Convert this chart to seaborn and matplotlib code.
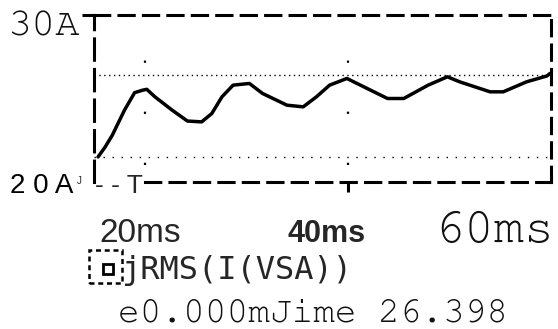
import matplotlib
matplotlib.use("Agg")
import matplotlib.pyplot as plt
import seaborn as sns
import pandas as pd
from matplotlib.patches import Rectangle

# data (time in ms, current in A)
time_ms = [15.4, 16.1, 16.8, 18.0, 19.0, 19.8, 20.2, 21.0, 22.7, 24.2, 25.6, 26.6,
           27.6, 28.7, 30.3, 31.6, 34.0, 35.6, 36.9, 38.2, 39.9, 40.9, 43.9, 45.5,
           47.9, 49.8, 51.0, 54.0, 55.3, 57.6, 59.6, 59.9]
rms_a = [21.5, 22.1, 22.8, 24.3, 25.35, 25.5, 25.55, 25.1, 24.3, 23.65, 23.6, 24.1,
         25.1, 25.8, 25.9, 25.3, 24.6, 24.5, 25.1, 25.8, 26.2, 25.9, 25.0, 25.0,
         25.8, 26.3, 26.0, 25.4, 25.4, 26.0, 26.35, 26.5]
cursor_levels = [26.4, 21.5]
grid_times = [20, 40]
x_range = [15, 60]
y_range = [20, 30]
x_labels = ["20ms", "40ms", "60ms"]
y_labels = ["30A", "2 0 A"]
trace_name = "jRMS(I(VSA))"
cursor_text = "e0.000mJime 26.398"

df = pd.DataFrame({"t": time_ms, "a": rms_a})

sns.set_style("white")
plt.rcParams['font.family'] = ['DejaVu Sans']

W, H = 558, 329
fig = plt.figure(figsize=(W / 100, H / 100), dpi=100)
fig.patch.set_facecolor("white")

def fx(x):
    return x / W

def fy(y):
    return 1 - y / H

left, right, top, bottom = 94, 551, 15, 182
ax = fig.add_axes([fx(left), fy(bottom), (right - left) / W, (bottom - top) / H])
ax.set_facecolor("white")

sns.lineplot(data=df, x="t", y="a", ax=ax, color="black", linewidth=2.5,
             legend=False, estimator=None, sort=False)

for lv, dens in zip(cursor_levels, [(0, (1, 2.5)), (0, (1, 5.5))]):
    ax.axhline(lv, color="black", linewidth=1.0, linestyle=dens)
for gt in grid_times:
    ax.axvline(gt, ymin=0.1, ymax=0.85, color="black", linewidth=1.6,
               linestyle=(0, (1, 22)))

ax.set_xlim(*x_range)
ax.set_ylim(*y_range)
ax.set_xlabel("")
ax.set_ylabel("")
ax.set_xticks([40])
ax.set_xticklabels([""])
ax.set_yticks([30])
ax.set_yticklabels([""])
ax.tick_params(axis="x", direction="out", length=7, width=2.2, color="black", bottom=True)
ax.tick_params(axis="y", direction="out", length=9, width=2.2, color="black", left=True)

for name, sp in ax.spines.items():
    sp.set_visible(True)
    sp.set_color("black")
    sp.set_linewidth(2.2)
    sp.set_linestyle((0, (5, 3)))
ax.spines["left"].set_linestyle((0, (7, 3)))
ax.spines["bottom"].set_bounds(20, 60)

courier = ["Courier New", "Nimbus Mono PS", "FreeMono", "Courier", "Liberation Mono"]
sans = ["Liberation Sans", "DejaVu Sans"]

fig.text(fx(7), fy(35), y_labels[0], family=courier, fontsize=29, ha="left",
         va="baseline", color="#111111")
fig.text(fx(10), fy(193), y_labels[1], family=sans, fontsize=20,
         ha="left", va="baseline", color="black")
fig.text(fx(77), fy(184), "J", family=sans, fontsize=7, ha="left", va="baseline")
fig.text(fx(95), fy(193), "- - T", family=sans, fontsize=19, ha="left", va="baseline")

fig.text(fx(99), fy(242), x_labels[0], family=sans, fontsize=24, ha="left", va="baseline")
fig.text(fx(288), fy(242), x_labels[1], family=sans, fontsize=22, fontweight="bold",
         ha="left", va="baseline")
fig.text(fx(434), fy(242), x_labels[2], family=courier, fontsize=36, ha="left",
         va="baseline", color="#111111")

# legend symbol
fig.patches.append(Rectangle((fx(89), fy(283)), 33 / W, 33 / H, transform=fig.transFigure,
                             fill=False, edgecolor="black", linewidth=1.8,
                             linestyle=(0, (2, 1.5))))
fig.patches.append(Rectangle((fx(103), fy(274)), 10 / W, 10 / H, transform=fig.transFigure,
                             fill=False, edgecolor="black", linewidth=2.0))
fig.text(fx(121), fy(279), trace_name, family=["DejaVu Sans Mono"], fontsize=23,
         ha="left", va="baseline")
fig.text(fx(118), fy(321), cursor_text, family=courier, fontsize=26, ha="left",
         va="baseline", color="#111111")

fig.savefig("out.png", dpi=100, facecolor="white")
